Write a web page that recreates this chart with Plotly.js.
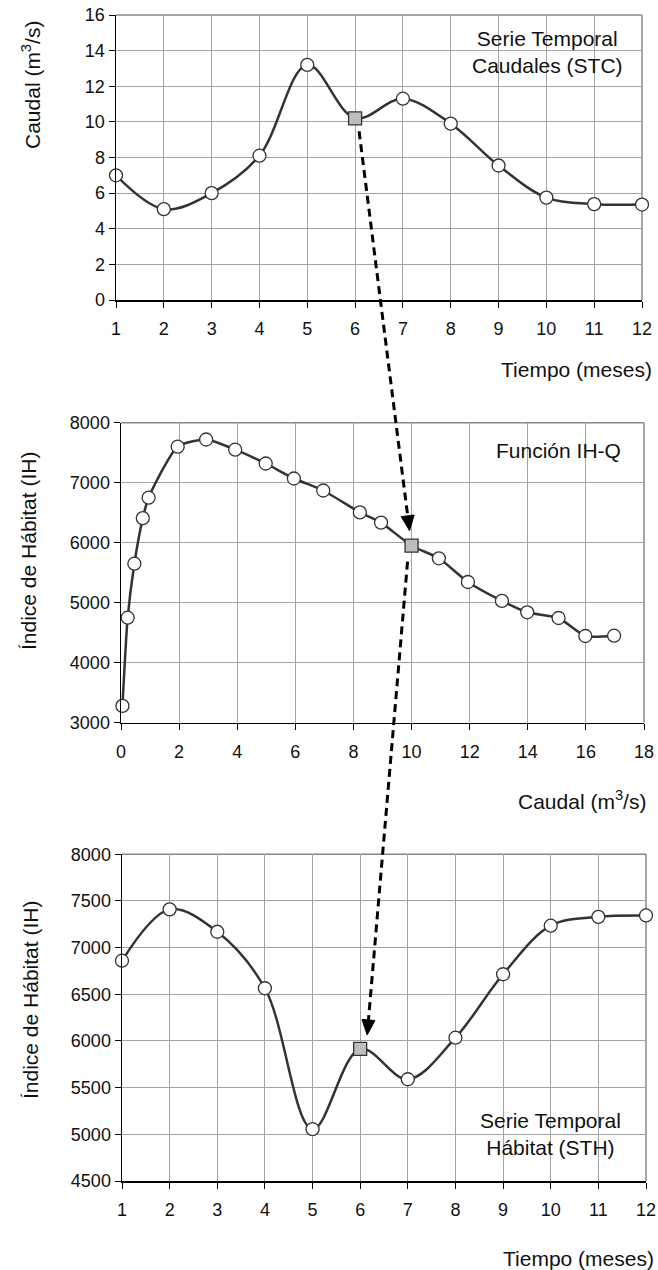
<!DOCTYPE html>
<html><head><meta charset="utf-8">
<script src="https://cdn.plot.ly/plotly-3.0.1.min.js"></script>
<style>html,body{margin:0;padding:0;background:#fff}</style>
</head><body><div id="chart" style="width:658px;height:1270px"></div>
<script>
// ---- data ----
const months = [1,2,3,4,5,6,7,8,9,10,11,12];
const caudalSTC = [7.0,5.1,6.0,8.1,13.2,10.2,11.3,9.9,7.55,5.75,5.38,5.36];
const caudalIHQ = [0.05,0.23,0.46,0.75,0.95,1.95,2.93,3.93,4.98,5.95,6.96,8.22,8.95,10.0,10.94,11.94,13.11,13.98,15.06,15.98,16.97];
const indiceIHQ = [3280,4750,5650,6410,6750,7600,7720,7550,7320,7070,6870,6505,6335,5950,5740,5345,5030,4840,4745,4445,4450];
const indiceSTH = [6860,7410,7170,6565,5055,5915,5590,6035,6715,7235,7330,7345];
const highlightMonthIdx = 5;   // month 6
const highlightIHQIdx = 13;    // Q = 10
const titleTop = 'Serie Temporal<br>Caudales (STC)';
const titleMid = 'Función IH-Q';
const titleBot = 'Serie Temporal<br>Hábitat (STH)';
const xTitleTime = 'Tiempo (meses)';
const xTitleQ = 'Caudal (m<sup>3</sup>/s)';
const yTitleQ = 'Caudal (m<sup>3</sup>/s)';
const yTitleIH = 'Índice de Hábitat (IH)';

// ---- geometry ----
const W = 658, H = 1270;
const FONT = 'Liberation Sans, Arial, sans-serif';
const px = v => v / W;
const py = v => 1 - v / H;
const boxes = {
  top: {x0:116, x1:642, y0:15,    y1:300},
  mid: {x0:121, x1:644, y0:422.7, y1:722.7},
  bot: {x0:122, x1:646, y0:854.3, y1:1181}
};
const ranges = {
  top: {x:[1,12], y:[0,16]},
  mid: {x:[0,18], y:[3000,8000]},
  bot: {x:[1,12], y:[4500,8000]}
};
function toPix(k, x, y) {
  const b = boxes[k], r = ranges[k];
  return [b.x0 + (x - r.x[0]) / (r.x[1] - r.x[0]) * (b.x1 - b.x0),
          b.y1 - (y - r.y[0]) / (r.y[1] - r.y[0]) * (b.y1 - b.y0)];
}

const gridColor = '#a3a3a3';
function xax(k, dtick) {
  const b = boxes[k];
  return {domain:[px(b.x0), px(b.x1)], range:ranges[k].x, dtick:dtick, tick0:ranges[k].x[0],
    showgrid:true, gridcolor:gridColor, gridwidth:1, zeroline:false,
    showline:true, linecolor:'#000', linewidth:1.5, ticks:'outside', ticklen:6, tickcolor:'#000', tickwidth:1,
    ticklabelstandoff:6,
    tickfont:{family:FONT, size:18, color:'#111'}, fixedrange:true};
}
function yax(k, dtick) {
  const b = boxes[k];
  return {domain:[py(b.y1), py(b.y0)], range:ranges[k].y, dtick:dtick,
    showgrid:true, gridcolor:gridColor, gridwidth:1, zeroline:false,
    showline:true, linecolor:'#000', linewidth:1.5, ticks:'outside', ticklen:6, tickcolor:'#000', tickwidth:1,
    tickfont:{family:FONT, size:18, color:'#111'}, fixedrange:true};
}

function markerStyle(n, hi) {
  const sym = [], col = [];
  for (let i = 0; i < n; i++) {
    sym.push(i === hi ? 'square' : 'circle');
    col.push(i === hi ? '#bdbdbd' : '#ffffff');
  }
  return {symbol:sym, color:col, size:13, line:{color:'#333', width:1.3}};
}

const lineStyle = {color:'#333', width:2.5, shape:'spline', smoothing:1};
const traces = [
  {x:months, y:caudalSTC, xaxis:'x', yaxis:'y', mode:'lines+markers', line:lineStyle,
   marker:markerStyle(months.length, highlightMonthIdx), cliponaxis:false, hoverinfo:'skip'},
  {x:caudalIHQ, y:indiceIHQ, xaxis:'x2', yaxis:'y2', mode:'lines+markers', line:{color:'#333', width:2.5, shape:'spline', smoothing:0.6},
   marker:markerStyle(caudalIHQ.length, highlightIHQIdx), cliponaxis:false, hoverinfo:'skip'},
  {x:months, y:indiceSTH, xaxis:'x3', yaxis:'y3', mode:'lines+markers', line:lineStyle,
   marker:markerStyle(months.length, highlightMonthIdx), cliponaxis:false, hoverinfo:'skip'}
];

// ---- shapes ----
const shapes = [];
function rectPix(x0, y0, x1, y1, extra) {
  return Object.assign({type:'rect', xref:'paper', yref:'paper', x0:px(x0), x1:px(x1), y0:py(y1), y1:py(y0)}, extra);
}
// white label boxes (above grid, below traces)
shapes.push(rectPix(450, 15, 642, 85, {fillcolor:'#fff', line:{width:0}, layer:'between'}));
shapes.push(rectPix(485, 422.7, 644, 477, {fillcolor:'#fff', line:{width:0}, layer:'between'}));
shapes.push(rectPix(456, 1097, 646, 1181, {fillcolor:'#fff', line:{width:0}, layer:'between'}));
// gray plot borders (top/right)
for (const k of ['top','mid','bot']) {
  const b = boxes[k];
  shapes.push({type:'line', xref:'paper', yref:'paper', x0:px(b.x0), x1:px(b.x1), y0:py(b.y0), y1:py(b.y0), line:{color:'#888', width:1.5}, layer:'between'});
  shapes.push({type:'line', xref:'paper', yref:'paper', x0:px(b.x1), x1:px(b.x1), y0:py(b.y0), y1:py(b.y1), line:{color:'#888', width:1.5}, layer:'between'});
}
// dashed arrows between linked points
function arrow(p0, p1) {
  const dx = p1[0] - p0[0], dy = p1[1] - p0[1];
  const L = Math.hypot(dx, dy), ux = dx / L, uy = dy / L;
  const hl = 15, hw = 6.5;
  const bx = p1[0] - ux * hl, by = p1[1] - uy * hl;
  shapes.push({type:'line', xref:'paper', yref:'paper', x0:px(p0[0]), y0:py(p0[1]), x1:px(bx), y1:py(by),
    line:{color:'#000', width:3, dash:'8px,5px'}, layer:'above'});
  const a = [bx - uy * hw, by + ux * hw], c = [bx + uy * hw, by - ux * hw];
  shapes.push({type:'path', xref:'paper', yref:'paper', layer:'above',
    path:`M ${px(p1[0])} ${py(p1[1])} L ${px(a[0])} ${py(a[1])} L ${px(c[0])} ${py(c[1])} Z`,
    fillcolor:'#000', line:{color:'#000', width:1}});
}
const sTop = toPix('top', months[highlightMonthIdx], caudalSTC[highlightMonthIdx]);
const sMid = toPix('mid', caudalIHQ[highlightIHQIdx], indiceIHQ[highlightIHQIdx]);
const sBot = toPix('bot', months[highlightMonthIdx], indiceSTH[highlightMonthIdx]);
arrow([sTop[0] + 4, sTop[1] + 13], [sMid[0] - 2, sMid[1] - 15]);
arrow([sMid[0] - 4, sMid[1] + 16], [sBot[0] + 7, sBot[1] - 14]);

// ---- annotations (titles) ----
const tf = {family:FONT, size:21, color:'#111'};
function ann(text, x, y, o) {
  return Object.assign({text:text, xref:'paper', yref:'paper', x:px(x), y:py(y), showarrow:false, font:tf,
    xanchor:'center', yanchor:'middle'}, o || {});
}
const annotations = [
  ann(titleTop, 547, 52, {align:'center'}),
  ann(titleMid, 558, 451),
  ann(titleBot, 550, 1134, {align:'center'}),
  ann(xTitleTime, 654, 369, {xanchor:'right'}),
  ann(xTitleQ, 648, 800, {xanchor:'right'}),
  ann(xTitleTime, 656, 1258, {xanchor:'right'}),
  ann(yTitleQ, 31, 85, {textangle:-90}),
  ann(yTitleIH, 28, 551, {textangle:-90}),
  ann(yTitleIH, 30, 1000, {textangle:-90})
];

const layout = {
  width:W, height:H, margin:{l:0, r:0, t:0, b:0},
  paper_bgcolor:'#fff', plot_bgcolor:'#fff', showlegend:false,
  font:{family:FONT, color:'#111'},
  xaxis:Object.assign(xax('top', 1), {anchor:'y'}),
  yaxis:Object.assign(yax('top', 2), {anchor:'x'}),
  xaxis2:Object.assign(xax('mid', 2), {anchor:'y2'}),
  yaxis2:Object.assign(yax('mid', 1000), {anchor:'x2'}),
  xaxis3:Object.assign(xax('bot', 1), {anchor:'y3'}),
  yaxis3:Object.assign(yax('bot', 500), {anchor:'x3'}),
  shapes:shapes, annotations:annotations
};
Plotly.newPlot('chart', traces, layout, {staticPlot:true, displayModeBar:false});
</script></body></html>
